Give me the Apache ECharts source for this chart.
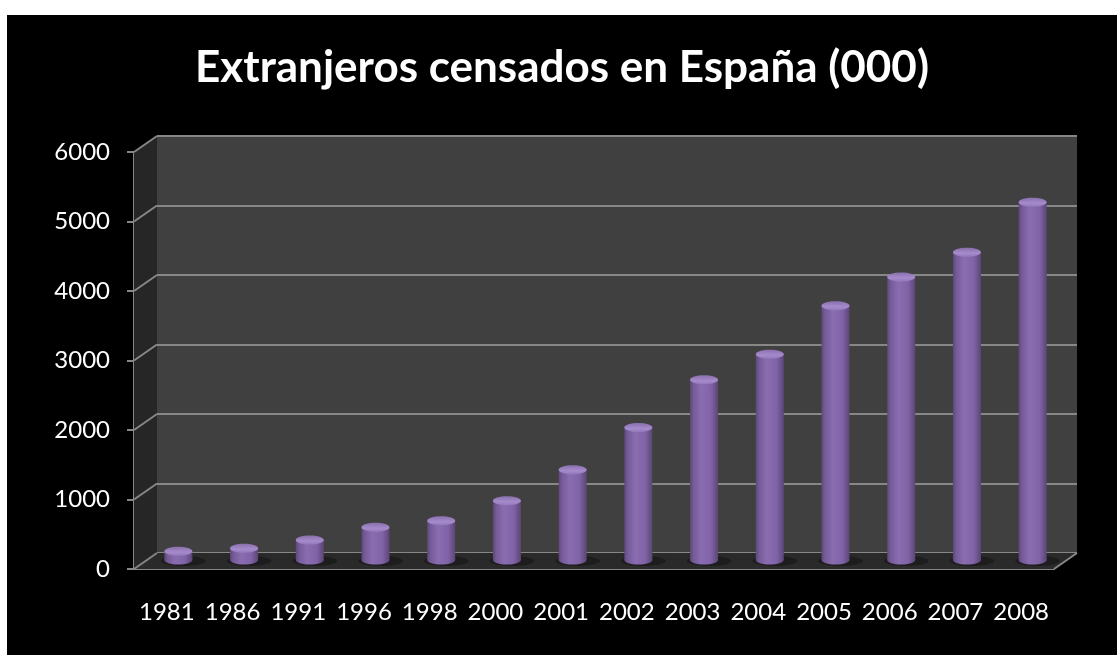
<!DOCTYPE html>
<html>
<head>
<meta charset="utf-8">
<script src="https://cdn.jsdelivr.net/npm/echarts@6/dist/echarts.min.js"></script>
<style>
  html, body { margin: 0; padding: 0; background: #fff; }
  #chart { position: absolute; left: 7px; top: 15px; width: 1110px; height: 640px; }
</style>
</head>
<body>
<div id="chart"></div>
<script>
// datos
const years = ['1981', '1986', '1991', '1996', '1998', '2000', '2001', '2002', '2003', '2004', '2005', '2006', '2007', '2008'];
const extranjeros = [198, 242, 360, 542, 637, 924, 1370, 1977, 2664, 3034, 3730, 4144, 4500, 5221];
const yTicks = [0, 1000, 2000, 3000, 4000, 5000, 6000];
const titulo = 'Extranjeros censados en España (000)';

// caja frontal y desplazamiento de profundidad (efecto 3D)
const front = { left: 127, top: 137, width: 920, height: 417 };
const dx = 23, dy = -16;
const axisGray = '#878787';
const fontName = 'Lato, "Open Sans", sans-serif';

function gridAt(f, extraY) {
    return { left: front.left + dx * f, top: front.top + dy * f + (extraY || 0), width: front.width, height: front.height, containLabel: false };
}

let chart = echarts.init(document.getElementById('chart'));

let bodyGrad = new echarts.graphic.LinearGradient(0, 0, 1, 0, [
    { offset: 0, color: '#5d4879' },
    { offset: 0.12, color: '#755b98' },
    { offset: 0.4, color: '#8a6db1' },
    { offset: 0.75, color: '#8062a6' },
    { offset: 1, color: '#5a4676' }
]);
let topGrad = new echarts.graphic.LinearGradient(0, 0, 0, 1, [
    { offset: 0, color: '#8a6fae' },
    { offset: 0.6, color: '#a68bcc' },
    { offset: 1, color: '#9379b9' }
]);

function renderCylinder(params, api) {
    let top = api.coord([api.value(0), api.value(1)]);
    let base = api.coord([api.value(0), 0]);
    let w = 28, ry = 4.5;
    let by = base[1] - 5;  // el cilindro apoya sobre el grosor del suelo
    return {
        type: 'group',
        children: [
            {
                type: 'ellipse',
                shape: { cx: base[0] + 5, cy: by + 1, rx: w * 0.8, ry: 5 },
                style: { fill: 'rgba(0,0,0,0.3)' }
            },
            {
                type: 'rect',
                shape: { x: top[0] - w / 2, y: top[1], width: w, height: by - top[1] },
                style: { fill: bodyGrad }
            },
            {
                type: 'ellipse',
                shape: { cx: base[0], cy: by, rx: w / 2, ry: ry },
                style: { fill: bodyGrad }
            },
            {
                type: 'ellipse',
                shape: { cx: top[0], cy: top[1], rx: w / 2, ry: ry },
                style: { fill: topGrad }
            }
        ]
    };
}

chart.setOption({
    backgroundColor: '#000',
    animation: false,
    title: {
        text: titulo,
        left: 'center',
        top: 26,
        textStyle: { color: '#fff', fontSize: 44, fontWeight: 'bold', fontFamily: fontName }
    },
    grid: [
        gridAt(0),
        Object.assign(gridAt(1), { show: true, backgroundColor: '#404040', borderWidth: 0 }),
        gridAt(0.5, 4)
    ],
    xAxis: [
        {
            gridIndex: 0, type: 'category', data: years,
            axisLine: { lineStyle: { color: axisGray, width: 2 } },
            axisTick: { length: 7, lineStyle: { color: axisGray, width: 2 } },
            axisLabel: { color: '#fff', fontSize: 24, fontFamily: fontName, margin: 31, interval: 0 }
        },
        { gridIndex: 1, type: 'category', data: years, show: false },
        { gridIndex: 2, type: 'category', data: years, show: false }
    ],
    yAxis: [
        {
            gridIndex: 0, type: 'value', min: 0, max: 6000, interval: 1000,
            axisLine: { show: true, lineStyle: { color: axisGray, width: 2 } },
            axisTick: { show: true, length: 7, lineStyle: { color: axisGray, width: 2 } },
            axisLabel: {
                color: '#fff', fontSize: 24, fontFamily: fontName, margin: 24,
                formatter: function (v) { return String(v); }
            },
            splitLine: { show: false }
        },
        {
            gridIndex: 1, type: 'value', min: 0, max: 6000, interval: 1000,
            axisLine: { show: false }, axisTick: { show: false }, axisLabel: { show: false },
            splitLine: { show: true, lineStyle: { color: axisGray, width: 2 } }
        },
        { gridIndex: 2, type: 'value', min: 0, max: 6000, show: false }
    ],
    series: [
        {
            type: 'custom',
            xAxisIndex: 2,
            yAxisIndex: 2,
            z: 10,
            renderItem: renderCylinder,
            data: years.map(function (y, i) { return [i, extranjeros[i]]; })
        }
    ]
});

// paredes laterales y suelo
let fl = front.left, fr = front.left + front.width;
let fb = front.top + front.height, ft = front.top;
let wallParts = [
    {
        type: 'polygon', z: 1,
        shape: { points: [[fl, fb], [fl, ft], [fl + dx, ft + dy], [fl + dx, fb + dy]] },
        style: { fill: '#262626' }
    },
    {
        type: 'polygon', z: 1,
        shape: { points: [[fl, fb], [fr, fb], [fr + dx, fb + dy], [fl + dx, fb + dy]] },
        style: { fill: '#2a2a2a' }
    },
    {
        type: 'line', z: 2,
        shape: { x1: fr, y1: fb, x2: fr + dx, y2: fb + dy },
        style: { stroke: axisGray, lineWidth: 2 }
    }
];
for (let i = 0; i < yTicks.length; i++) {
    let yf = chart.convertToPixel({ yAxisIndex: 0 }, yTicks[i]);
    let yb = chart.convertToPixel({ yAxisIndex: 1 }, yTicks[i]);
    wallParts.push({
        type: 'line', z: 2,
        shape: { x1: fl, y1: yf, x2: fl + dx, y2: yb },
        style: { stroke: axisGray, lineWidth: 2 }
    });
}
chart.setOption({ graphic: wallParts });
</script>
</body>
</html>
